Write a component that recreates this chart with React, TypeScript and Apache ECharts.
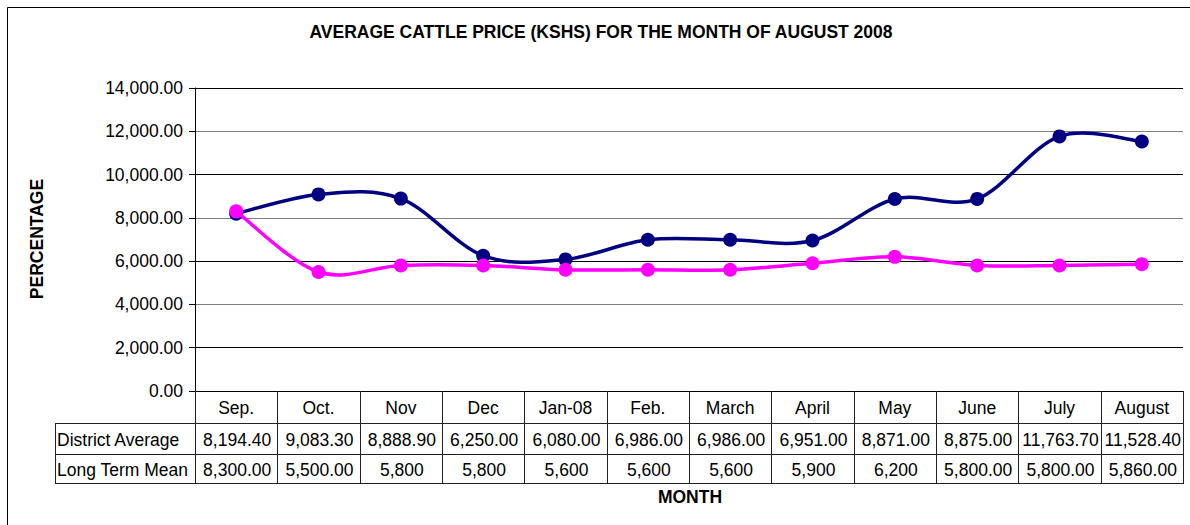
import React, { useEffect, useRef } from "react";
import * as echarts from "echarts";

const titleText = "AVERAGE CATTLE PRICE (KSHS) FOR THE MONTH OF AUGUST 2008";
const yAxisTitle = "PERCENTAGE";
const xAxisTitle = "MONTH";
const months = ["Sep.", "Oct.", "Nov", "Dec", "Jan-08", "Feb.", "March", "April", "May", "June", "July", "August"];
const seriesNames = ["District Average", "Long Term Mean"];
const districtAverage = [8194.4, 9083.3, 8888.9, 6250.0, 6080.0, 6986.0, 6986.0, 6951.0, 8871.0, 8875.0, 11763.7, 11528.4];
const longTermMean = [8300, 5500, 5800, 5800, 5600, 5600, 5600, 5900, 6200, 5800, 5800, 5860];
const districtDecimals = [2, 2, 2, 2, 2, 2, 2, 2, 2, 2, 2, 2];
const longTermDecimals = [2, 2, 0, 0, 0, 0, 0, 0, 0, 2, 2, 2];
const yMin = 0;
const yMax = 14000;
const yInterval = 2000;

const FONT = "'Liberation Sans', Arial, sans-serif";
const FS = 17.5;

const fmt = (v: number, d: number) =>
  v.toLocaleString("en-US", { minimumFractionDigits: d, maximumFractionDigits: d });

// Excel-style smoothed line (Catmull-Rom -> Bezier) drawn through the axis scales
const smoothLineSeries = (values: number[], color: string, z: number) => ({
  type: "custom",
  data: [0],
  z,
  silent: true,
  renderItem: (_params: any, api: any) => {
    const p = values.map((v, i) => api.coord([i, v]));
    const n = p.length;
    let d = `M${p[0][0]},${p[0][1]}`;
    for (let i = 0; i < n - 1; i++) {
      const p0 = p[Math.max(i - 1, 0)];
      const p1 = p[i];
      const p2 = p[i + 1];
      const p3 = p[Math.min(i + 2, n - 1)];
      const c1x = p1[0] + (p2[0] - p0[0]) / 6;
      const c1y = p1[1] + (p2[1] - p0[1]) / 6;
      const c2x = p2[0] - (p3[0] - p1[0]) / 6;
      const c2y = p2[1] - (p3[1] - p1[1]) / 6;
      d += ` C${c1x},${c1y} ${c2x},${c2y} ${p2[0]},${p2[1]}`;
    }
    return {
      type: "path",
      shape: { pathData: d },
      style: { fill: "none", stroke: color, lineWidth: 3.5, lineJoin: "round", lineCap: "round" },
    };
  },
});

export default function App() {
  const ref = useRef<HTMLDivElement>(null);
  useEffect(() => {
    if (!ref.current) return;
    const chart = echarts.init(ref.current, undefined, { renderer: "svg" });

    const W = 1190;
    const H = 525;
    const plotLeft = 195;
    const plotRight = 1183;
    const plotTop = 88;
    const plotBottom = 391;
    const tableLeft = 55;
    const rowLines = [423, 454, 483];
    const n = months.length;
    const colW = (plotRight - plotLeft) / n;

    const graphic: any[] = [];
    graphic.push({
      type: "rect",
      shape: { x: 7.5, y: 7.5, width: 1300, height: 700 },
      style: { fill: "none", stroke: "#000", lineWidth: 1 },
      silent: true,
    });
    graphic.push({
      type: "text",
      x: 601,
      y: 32,
      style: { text: titleText, fontFamily: FONT, fontSize: FS, fontWeight: "bold", fill: "#000", textAlign: "center", textVerticalAlign: "middle" },
    });
    graphic.push({
      type: "text",
      x: 37,
      y: 239,
      rotation: Math.PI / 2,
      style: { text: yAxisTitle, fontFamily: FONT, fontSize: FS, fontWeight: "bold", fill: "#000", textAlign: "center", textVerticalAlign: "middle" },
    });
    graphic.push({
      type: "text",
      x: 690,
      y: 497,
      style: { text: xAxisTitle, fontFamily: FONT, fontSize: FS, fontWeight: "bold", fill: "#000", textAlign: "center", textVerticalAlign: "middle" },
    });

    const lineStyle = { stroke: "#222", lineWidth: 1 };
    rowLines.forEach((y) => {
      graphic.push({ type: "line", shape: { x1: tableLeft, y1: y + 0.5, x2: plotRight, y2: y + 0.5 }, style: lineStyle, z: 10 });
    });
    graphic.push({ type: "line", shape: { x1: tableLeft + 0.5, y1: rowLines[0], x2: tableLeft + 0.5, y2: rowLines[2] + 1 }, style: lineStyle, z: 10 });
    for (let i = 0; i <= n; i++) {
      const x = Math.round(plotLeft + i * colW) + 0.5;
      graphic.push({ type: "line", shape: { x1: x, y1: plotBottom, x2: x, y2: rowLines[2] + 1 }, style: lineStyle, z: 10 });
    }
    const rowCenters = [(rowLines[0] + rowLines[1]) / 2 + 1.5, (rowLines[1] + rowLines[2]) / 2 + 1.5];
    const rows = [
      { name: seriesNames[0], vals: districtAverage, dec: districtDecimals },
      { name: seriesNames[1], vals: longTermMean, dec: longTermDecimals },
    ];
    rows.forEach((r, ri) => {
      graphic.push({
        type: "text",
        x: tableLeft + 2,
        y: rowCenters[ri],
        style: { text: r.name, fontFamily: FONT, fontSize: FS, fill: "#000", textAlign: "left", textVerticalAlign: "middle" },
        z: 10,
      });
      r.vals.forEach((v, i) => {
        graphic.push({
          type: "text",
          x: plotLeft + (i + 0.5) * colW + 1,
          y: rowCenters[ri],
          style: { text: fmt(v, r.dec[i]), fontFamily: FONT, fontSize: FS, fill: "#000", textAlign: "center", textVerticalAlign: "middle" },
          z: 10,
        });
      });
    });

    chart.setOption({
      animation: false,
      backgroundColor: "#fff",
      grid: { left: plotLeft, right: W - plotRight, top: plotTop, bottom: H - plotBottom, containLabel: false },
      xAxis: {
        type: "category",
        data: months,
        boundaryGap: true,
        axisLine: { lineStyle: { color: "#000", width: 1 } },
        axisTick: { show: false },
        axisLabel: { color: "#000", fontFamily: FONT, fontSize: FS, margin: 8, interval: 0 },
        splitLine: { show: false },
      },
      yAxis: {
        type: "value",
        min: yMin,
        max: yMax,
        interval: yInterval,
        axisLine: { show: true, lineStyle: { color: "#000", width: 1 } },
        axisTick: { show: true, length: 6, lineStyle: { color: "#000" } },
        axisLabel: {
          color: "#000",
          fontFamily: FONT,
          fontSize: FS,
          margin: 12,
          formatter: (v: number) => fmt(v, 2),
        },
        splitLine: { show: true, lineStyle: { color: ["#808080", "#000"], width: 1 } },
      },
      series: [
        smoothLineSeries(districtAverage, "#000080", 2),
        {
          name: seriesNames[0],
          type: "line",
          data: districtAverage,
          z: 3,
          symbol: "circle",
          symbolSize: 14,
          lineStyle: { width: 0, opacity: 0 },
          itemStyle: { color: "#000080" },
        },
        smoothLineSeries(longTermMean, "#FF00FF", 4),
        {
          name: seriesNames[1],
          type: "line",
          data: longTermMean,
          z: 5,
          symbol: "circle",
          symbolSize: 14,
          lineStyle: { width: 0, opacity: 0 },
          itemStyle: { color: "#FF00FF" },
        },
      ],
      graphic,
    });
    return () => chart.dispose();
  }, []);
  return <div ref={ref} style={{ position: "fixed", left: 0, top: 0, width: 1190, height: 525 }} />;
}
